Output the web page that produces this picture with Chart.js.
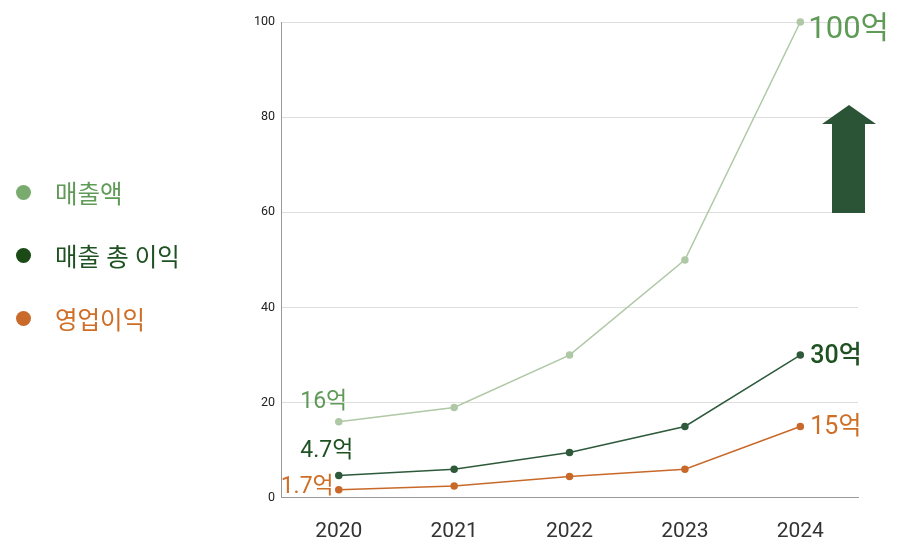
<!DOCTYPE html>
<html><head><meta charset="utf-8">
<script src="https://cdn.jsdelivr.net/npm/chart.js@4"></script>
<style>
html,body{margin:0;padding:0;background:#fff;}
#wrap{position:relative;width:907px;height:552px;}
#legend{position:absolute;left:16px;top:176px;font-family:Roboto,'Noto Sans CJK KR',sans-serif;font-size:24.5px;}
.item{display:flex;align-items:center;height:32px;margin-bottom:31px;}
.dot{width:15px;height:15px;border-radius:50%;margin-right:24px;}
</style></head>
<body><div id="wrap"><canvas id="c" width="907" height="552"></canvas><div id="legend"></div></div>
<script>
const categories = ['2020','2021','2022','2023','2024'];
const revenue = [16, 19, 30, 50, 100];
const grossProfit = [4.7, 6, 9.5, 15, 30];
const operatingProfit = [1.7, 2.5, 4.5, 6, 15];
const seriesNames = ['매출액','매출 총 이익','영업이익'];
const yTicks = [0,20,40,60,80,100];
const firstLabels = ['16억','4.7억','1.7억'];
const lastLabels = ['100억','30억','15억'];

const lineColors = ['#afc8a6','#2e5a3b','#c8692a'];
const labelColors = ['#5f9a57','#1f5222','#cf6e26'];
const legendColors = ['#7aab6e','#1c4a17','#c9692a'];

const lg = document.getElementById('legend');
seriesNames.forEach((n,i)=>{
  const d=document.createElement('div');d.className='item';
  d.innerHTML='<span class="dot" style="background:'+legendColors[i]+'"></span><span style="color:'+labelColors[i]+'">'+n+'</span>';
  lg.appendChild(d);
});

const labelPlugin = {
  id:'labels',
  afterDatasetsDraw(chart){
    const ctx=chart.ctx;
    const cfg=[
      {first:{dx:-15,dy:-19,size:23,align:'center'}, last:{dx:8,dy:8,size:31,align:'left',bold:false}},
      {first:{dx:-12,dy:-24,size:23,align:'center'}, last:{dx:10,dy:2,size:25,align:'left',bold:true}},
      {first:{dx:-5,dy:-2,size:23,align:'right'}, last:{dx:10,dy:1,size:25,align:'left',bold:false}}
    ];
    chart.data.datasets.forEach((ds,i)=>{
      const meta=chart.getDatasetMeta(i);
      const p0=meta.data[0], pN=meta.data[meta.data.length-1];
      ctx.save();
      ctx.fillStyle=labelColors[i];
      ctx.textBaseline='middle';
      let c=cfg[i].first;
      ctx.font=(c.bold?'500 ':'')+c.size+"px Roboto,'Noto Sans CJK KR',sans-serif";
      ctx.textAlign=c.align;
      ctx.fillText(firstLabels[i], p0.x+c.dx, p0.y+c.dy);
      c=cfg[i].last;
      ctx.font=(c.bold?'500 ':'')+c.size+"px Roboto,'Noto Sans CJK KR',sans-serif";
      ctx.textAlign=c.align;
      ctx.fillText(lastLabels[i], pN.x+c.dx, pN.y+c.dy);
      ctx.restore();
    });
    // decorative up arrow
    ctx.save();
    ctx.fillStyle='#2b5436';
    ctx.beginPath();
    const cx=849, top=105, headBase=124, bottom=213;
    ctx.moveTo(cx,top);
    ctx.lineTo(cx+27,headBase);
    ctx.lineTo(cx+16,headBase);
    ctx.lineTo(cx+16,bottom);
    ctx.lineTo(cx-17,bottom);
    ctx.lineTo(cx-17,headBase);
    ctx.lineTo(cx-27,headBase);
    ctx.closePath();
    ctx.fill();
    ctx.restore();
  }
};

new Chart(document.getElementById('c'),{
  type:'line',
  data:{labels:categories,datasets:[
    {label:seriesNames[0],data:revenue,borderColor:lineColors[0],backgroundColor:lineColors[0],borderWidth:1.5,pointRadius:3,pointHoverRadius:3,tension:0,clip:false},
    {label:seriesNames[1],data:grossProfit,borderColor:lineColors[1],backgroundColor:lineColors[1],borderWidth:1.5,pointRadius:3,pointHoverRadius:3,tension:0,clip:false},
    {label:seriesNames[2],data:operatingProfit,borderColor:lineColors[2],backgroundColor:lineColors[2],borderWidth:1.5,pointRadius:3,pointHoverRadius:3,tension:0,clip:false}
  ]},
  options:{
    responsive:false,animation:false,
    layout:{padding:{left:248,right:49,top:22,bottom:-13}},
    plugins:{legend:{display:false},tooltip:{enabled:false}},
    scales:{
      x:{offset:true,grid:{display:false,drawTicks:false},border:{color:'#999',width:1},
         ticks:{padding:21,color:'#333',font:{family:"'Liberation Sans Narrow',Roboto,sans-serif",size:21}}},
      y:{min:0,max:100,afterBuildTicks(s){s.ticks=yTicks.map(v=>({value:v}));},
         grid:{color:'#dedede',drawTicks:false},border:{color:'#999',width:1},
         ticks:{padding:6,color:'#222',font:{family:"Roboto,sans-serif",size:12.5}}}
    }
  },
  plugins:[labelPlugin]
});
</script></body></html>
